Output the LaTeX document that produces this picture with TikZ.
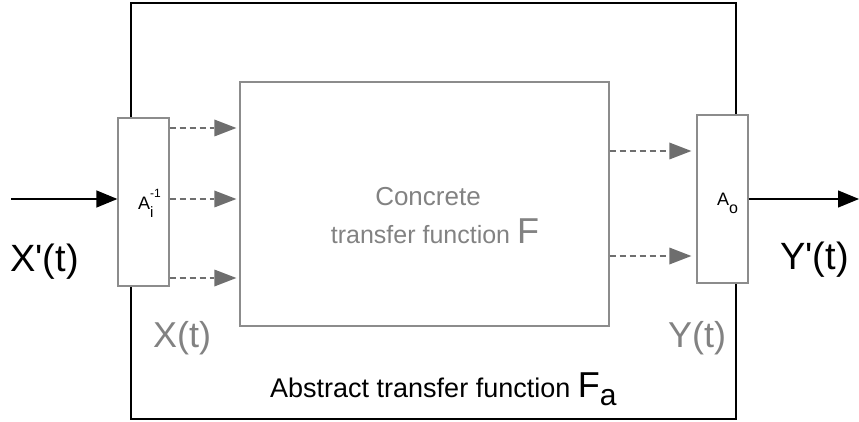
\documentclass[tikz,border=0pt]{standalone}
\usepackage{fontspec}
\setmainfont{Liberation Sans}[Ligatures=TeXOff]
\usetikzlibrary{arrows.meta}
\definecolor{boxgray}{HTML}{8C8C8C}
\definecolor{txtgray}{HTML}{828282}
\definecolor{arrgray}{HTML}{6E6E6E}
\newcommand{\fsz}[1]{\fontsize{#1}{#1}\selectfont}
\begin{document}
\begin{tikzpicture}[x=1pt,y=-1pt,
  outerbox/.style={draw=black, line width=1.6pt, minimum width=605pt, minimum height=416pt, inner sep=0pt},
  concbox/.style={draw=boxgray, line width=1.3pt, minimum width=369pt, minimum height=244pt, inner sep=0pt},
  abox/.style={draw=boxgray, fill=white, line width=1.3pt, minimum width=51pt, minimum height=168pt, inner sep=0pt},
  dasharrow/.style={draw=arrgray, line width=1.2pt, dash pattern=on 6pt off 4pt,
     -{Triangle[length=22pt,width=17pt,fill=arrgray,line width=0pt]}},
  solidarrow/.style={draw=black, line width=1.3pt, -{Triangle[length=21pt,width=17pt,fill=black]}},
  bigtxt/.style={inner sep=0pt, font=\fsz{38}},
  graytxt/.style={inner sep=0pt, text=txtgray},
]
\useasboundingbox (0,0) rectangle (859,422);
\node[outerbox] (outer) at (433.5,211) {};
\node[concbox] (conc) at (424.5,204) {};
\node[abox] (Ai) at (143.5,202) {};
\node[abox] (Ao) at (722.5,199) {};

% labels in A boxes
\node[inner sep=0pt, anchor=base west] (ailab) at (138,210)
  {\fsz{18}A\rlap{\raisebox{-8pt}{\fsz{15}i}}\raisebox{12pt}{\fsz{12}-1}};
\node[inner sep=0pt, anchor=base west] (aolab) at (717,205)
  {\fsz{18}A\raisebox{-9pt}{\fsz{16}o}};

% coordinates for connector heights
\coordinate (inL) at (11,199);
\coordinate (outR) at (859,199);
\coordinate (l1) at (0,128);
\coordinate (l2) at (0,199);
\coordinate (l3) at (0,278);
\coordinate (r1) at (0,151);
\coordinate (r2) at (0,256);

\draw[solidarrow] (inL) -- (inL -| Ai.west);
\draw[solidarrow] (Ao.east |- outR) -- (outR);

\draw[dasharrow, shorten >=3pt] (Ai.east |- l1) -- (conc.west |- l1);
\draw[dasharrow, shorten >=3pt] (Ai.east |- l2) -- (conc.west |- l2);
\draw[dasharrow, shorten >=3pt] (Ai.east |- l3) -- (conc.west |- l3);
\draw[dasharrow, shorten >=5pt] (conc.east |- r1) -- (Ao.west |- r1);
\draw[dasharrow, shorten >=5pt] (conc.east |- r2) -- (Ao.west |- r2);

% texts
\node[bigtxt, anchor=base west] (xp) at (10,271) {X'(t)};
\node[bigtxt, anchor=base west] (yp) at (780,269) {Y'(t)};
\node[graytxt, font=\fsz{36}, anchor=base west] (xt) at (153,347) {X(t)};
\node[graytxt, font=\fsz{36}, anchor=base west] (yt) at (668,347) {Y(t)};
\node[graytxt, font=\fsz{26}, anchor=base] (c1) at (428,205) {Concrete};
\node[graytxt, font=\fsz{25}, anchor=base] (c2) at (435,243) {transfer function {\fsz{36}F}};
\node[inner sep=0pt, font=\fsz{27}, anchor=base west] (abs) at (270,397)
  {Abstract transfer function {\fsz{36}F\raisebox{-8pt}{\fsz{30}a}}};
\end{tikzpicture}
\end{document}
